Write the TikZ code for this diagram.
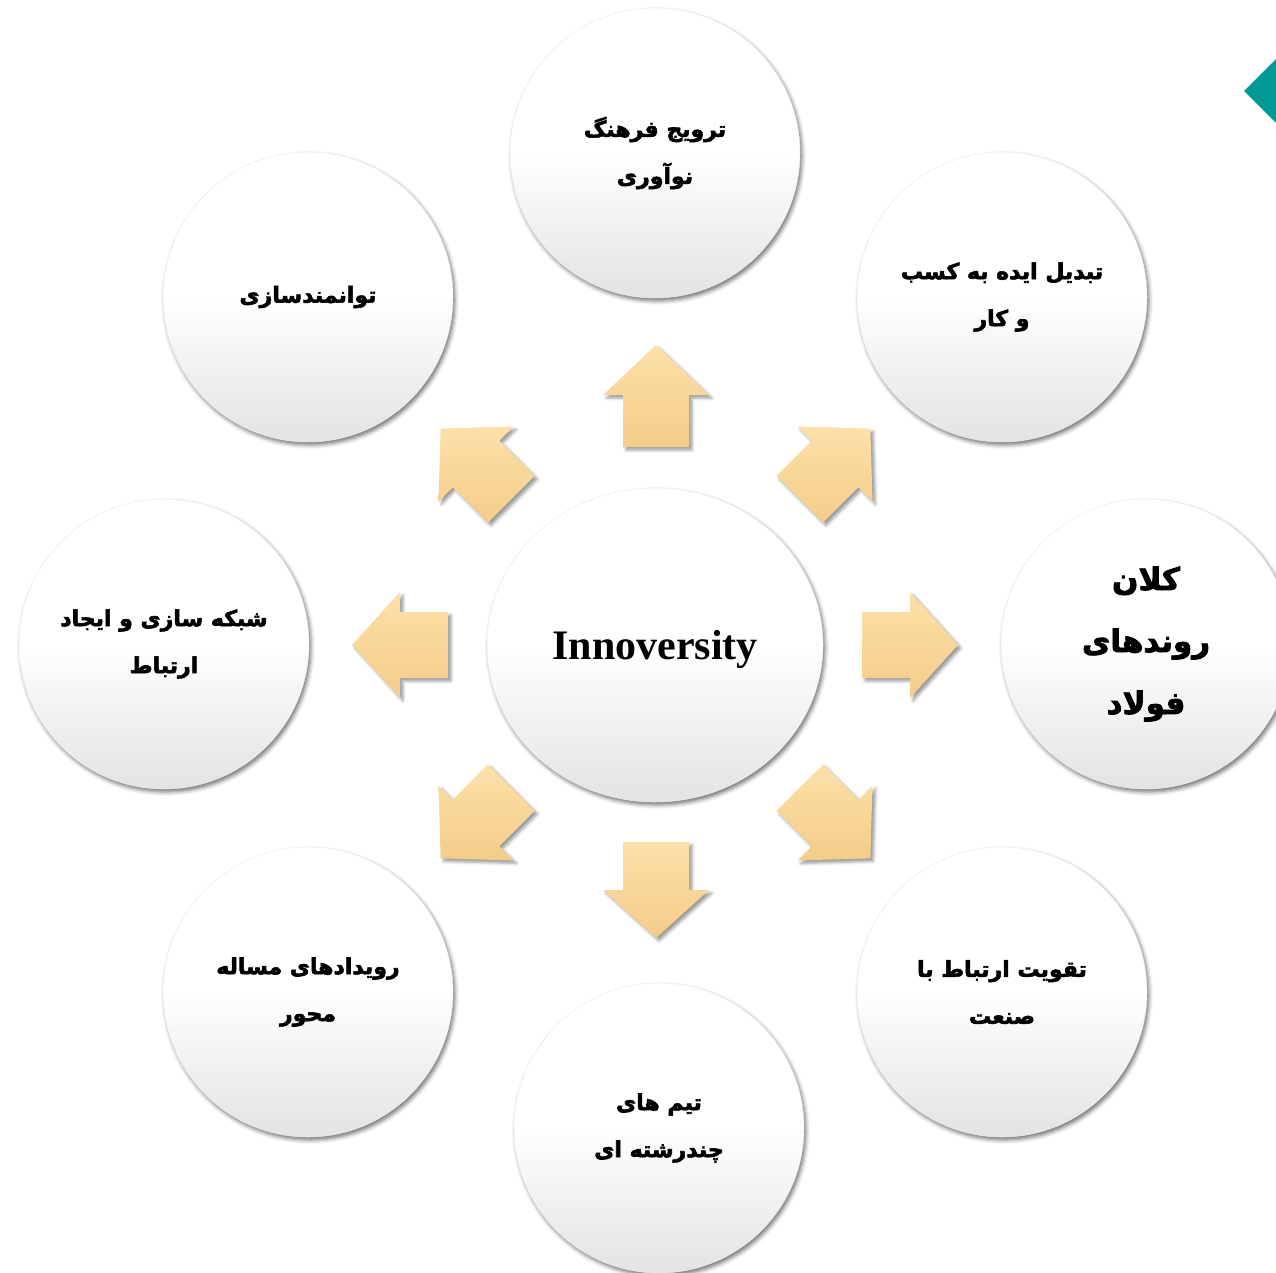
\documentclass[tikz,border=0pt]{standalone}
\usepackage{fontspec}
\setmainfont{Liberation Serif}
\newfontfamily\farsi[Script=Arabic,FakeBold=2.6]{DejaVu Sans Bold}
\TeXXeTstate=1
\usetikzlibrary{shapes.geometric,shadows.blur}
\newcommand\rl[1]{\beginR #1\endR}
\definecolor{tealc}{RGB}{0,153,148}
\definecolor{arrtop}{RGB}{253,224,168}
\definecolor{arrbot}{RGB}{244,204,138}
% \barrow{cx}{cy}{angle}{half length}{head base offset}
\newcommand\barrow[5]{%
  \path[arrowst]
    ([shift={(#1,#2)},rotate=#3]#4,0) --
    ([shift={(#1,#2)},rotate=#3]#5,53) --
    ([shift={(#1,#2)},rotate=#3]#5,33) --
    ([shift={(#1,#2)},rotate=#3]-#4,33) --
    ([shift={(#1,#2)},rotate=#3]-#4,-33) --
    ([shift={(#1,#2)},rotate=#3]#5,-33) --
    ([shift={(#1,#2)},rotate=#3]#5,-53) -- cycle;}
\begin{document}
\begin{tikzpicture}[x=1pt,y=-1pt,
  bubble/.style={circle, minimum size=290pt, inner sep=0pt, draw=black!7, line width=0.5pt,
    top color=white, bottom color=black!11, middle color=white,
    blur shadow={shadow xshift=2pt, shadow yshift=-3pt, shadow blur radius=4pt, shadow opacity=55},
    font=\farsi\fontsize{22}{47}\selectfont, align=center, text=black},
  bigtext/.style={font=\farsi\fontsize{31}{62}\selectfont},
  hub/.style={ellipse, minimum width=336pt, minimum height=314pt, inner sep=0pt, draw=black!7, line width=0.5pt,
    top color=white, bottom color=black!11, middle color=white,
    blur shadow={shadow xshift=2pt, shadow yshift=-3pt, shadow blur radius=4pt, shadow opacity=55},
    font=\bfseries\fontsize{42}{48}\selectfont},
  arrowst/.style={top color=arrtop, bottom color=arrbot,
    blur shadow={shadow xshift=3pt, shadow yshift=-3pt, shadow blur radius=3pt, shadow opacity=40}}
]
\useasboundingbox (0,0) rectangle (1276,1273);
\clip (0,0) rectangle (1276,1273);
\fill[tealc] (1244,91) -- (1276,59) -- (1308,91) -- (1276,123) -- cycle;

\node[bubble] (n1) at (655,153) {\rl{ترویج فرهنگ}\\\rl{نوآوری}};
\node[bubble] (n2) at (1002,297) {\rl{تبدیل ایده به کسب}\\\rl{و کار}};
\node[bubble, bigtext] (n3) at (1146,644) {\rl{کلان}\\\rl{روندهای}\\\rl{فولاد}};
\node[bubble] (n4) at (1002,992) {\rl{تقویت ارتباط با}\\\rl{صنعت}};
\node[bubble] (n5) at (659,1128) {\rl{تیم های}\\\rl{چندرشته ای}};
\node[bubble] (n6) at (308,992) {\rl{رویدادهای مساله}\\\rl{محور}};
\node[bubble] (n7) at (164,644) {\rl{شبکه سازی و ایجاد}\\\rl{ارتباط}};
\node[bubble] (n8) at (308,297) {\rl{توانمندسازی}};

\barrow{656}{396}{90}{51}{1}
\barrow{835}{464}{45}{50}{0}
\barrow{910}{645}{0}{48}{0}
\barrow{835}{823}{-45}{50}{0}
\barrow{656}{890}{-90}{48}{0}
\barrow{476}{823}{-135}{50}{0}
\barrow{400}{645}{180}{48}{0}
\barrow{476}{464}{135}{50}{0}

\node[hub] (c) at (655,645) {\raisebox{-4pt}[\height][\depth]{Innoversity}};
\end{tikzpicture}
\end{document}
